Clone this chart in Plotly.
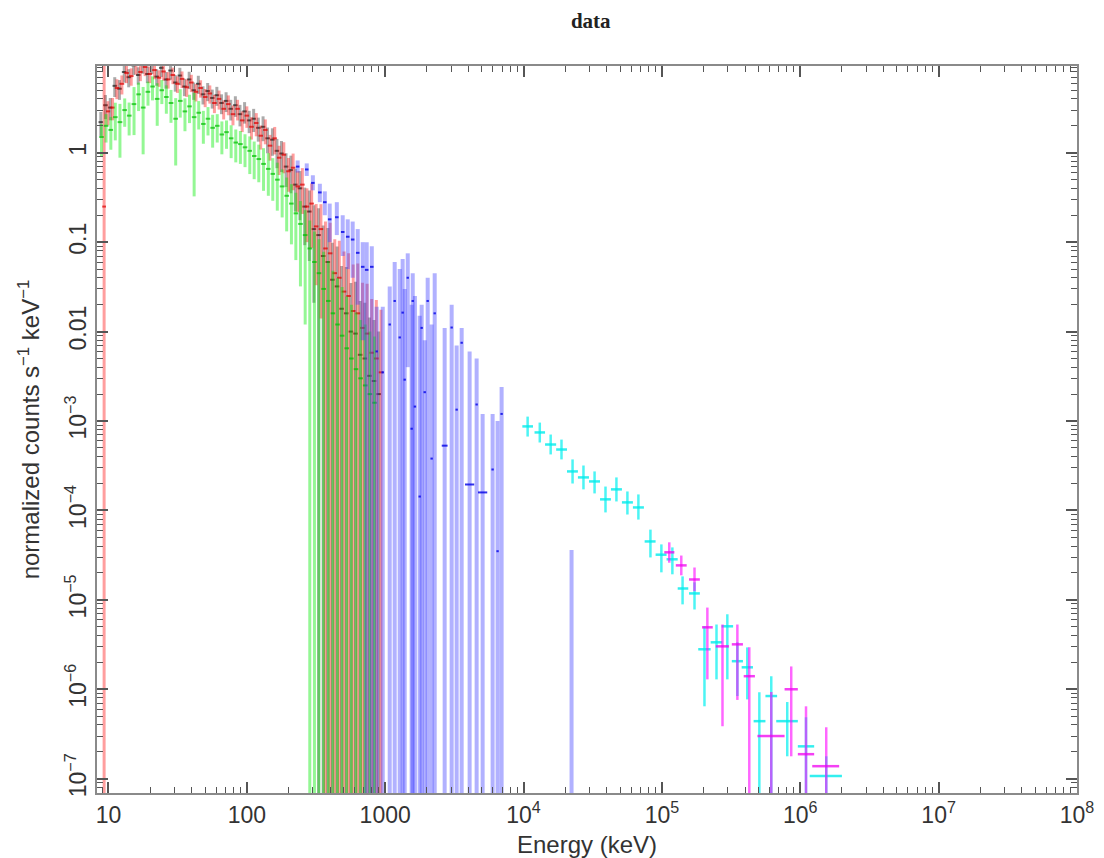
import plotly.graph_objects as go

# ---------------- data ----------------
BOTTOM = 1e-9  # lower error bound below the axis (error reaches zero)

# group 1 (black)
black_e = [8.8, 9.5, 10.3, 11.1, 12.0, 13.0, 14.0, 15.2, 16.4, 17.7,
           19.1, 20.6, 22.3, 24.1, 26.0, 28.1, 30.4, 32.8, 35.4, 38.3,
           41.3, 44.6, 48.2, 52.1, 56.2, 60.7, 65.6, 70.8, 76.5, 82.6,
           89.2, 96.3, 104, 112, 121, 131, 141, 153, 165, 178,
           192, 208, 224, 242, 262, 283, 305, 330, 356, 385,
           415, 449, 484, 523, 565, 610, 659, 712, 769, 830, 897]
black_v = [2.2, 3.4, 3.2, 5.6, 5.2, 8.0, 7.0, 9.5, 7.4, 9.8,
           7.6, 9.6, 7.1, 8.9, 6.6, 8.3, 6.1, 7.3, 5.5, 6.6,
           5.0, 5.9, 4.5, 4.9, 4.1, 4.4, 3.6, 3.8, 3.1, 3.4,
           2.7, 2.9, 2.3, 2.4, 1.9, 1.95, 1.45, 1.4, 1.05, 0.98,
           0.7, 0.64, 0.44, 0.4, 0.25, 0.22, 0.14, 0.12, 0.07, 0.06,
           0.038, 0.032, 0.018, 0.016, 0.01, 0.0095, 0.0055, 0.005, 0.0032, 0.0028, 0.002]
black_rel = [0.3, 0.3, 0.28, 0.25, 0.25, 0.24, 0.23, 0.22, 0.22, 0.22,
             0.21, 0.21, 0.21, 0.21, 0.21, 0.21, 0.21, 0.22, 0.22, 0.22,
             0.22, 0.23, 0.23, 0.23, 0.24, 0.24, 0.25, 0.25, 0.26, 0.26,
             0.27, 0.27, 0.28, 0.29, 0.3, 0.31, 0.32, 0.34, 0.36, 0.38,
             0.41, 0.45, 0.5, 0.56, 0.63, 0.72, 0.85, 1.0, 1.2, 1.4,
             1.6, 1.8, 2.0, 2.3, 2.5, 2.8, 3.0, 3.2, 3.5, 3.8, 4.0]

# group 2 (red)
red_e = [9.3, 9.9, 10.7, 11.5, 12.5, 13.5, 14.6, 15.8, 17.0, 18.4,
         19.9, 21.5, 23.2, 25.0, 27.0, 29.2, 31.5, 34.0, 36.8, 39.7,
         42.9, 46.3, 50.0, 54.0, 58.3, 63.0, 68.0, 73.5, 79.4, 85.7,
         92.6, 100, 108, 117, 126, 136, 147, 159, 171, 185,
         200, 216, 233, 252, 272, 294, 317, 343, 370, 400,
         432, 466, 504, 544, 587, 634, 685, 740, 799, 863, 932]
red_v = [0.25, 2.9, 3.2, 5.3, 5.9, 7.8, 7.2, 9.6, 8.0, 9.1,
         7.6, 8.4, 6.9, 8.1, 6.6, 7.4, 5.9, 6.7, 5.4, 6.1,
         4.8, 5.3, 4.2, 4.6, 3.6, 4.0, 3.1, 3.5, 2.7, 3.1,
         2.3, 2.6, 1.95, 2.15, 1.55, 1.8, 1.2, 1.45, 0.88, 0.95,
         0.62, 0.68, 0.42, 0.44, 0.25, 0.27, 0.15, 0.14, 0.085, 0.075,
         0.045, 0.04, 0.028, 0.025, 0.017, 0.016, 0.011, 0.0095, 0.0058, 0.005, 0.0035]
red_rel = [100.0, 0.3, 0.28, 0.25, 0.24, 0.23, 0.22, 0.22, 0.21, 0.21,
           0.21, 0.21, 0.21, 0.21, 0.21, 0.21, 0.21, 0.21, 0.22, 0.22,
           0.22, 0.22, 0.23, 0.23, 0.23, 0.24, 0.24, 0.25, 0.25, 0.26,
           0.26, 0.27, 0.28, 0.29, 0.3, 0.31, 0.32, 0.34, 0.36, 0.38,
           0.41, 0.44, 0.48, 0.53, 0.6, 0.68, 0.78, 0.9, 1.0, 1.2,
           1.4, 1.6, 1.8, 2.0, 2.3, 2.6, 2.2, 2.6, 3.0, 3.5, 4.0]

# group 3 (green)
green_e = [8.9, 9.6, 10.4, 11.2, 12.1, 13.1, 14.1, 15.3, 16.5, 17.8,
           19.3, 20.8, 22.5, 24.3, 26.2, 28.3, 30.6, 33.0, 35.7, 38.5,
           41.6, 44.9, 48.5, 52.4, 56.6, 61.1, 66.0, 71.3, 77.0, 83.2,
           89.8, 97.0, 105, 113, 122, 132, 143, 154, 166, 180,
           194, 210, 226, 244, 264, 285, 308, 332, 359, 388,
           419, 452, 488, 527, 570, 615, 664, 717, 775, 837]
green_v = [1.5, 2.0, 1.8, 2.5, 2.2, 3.0, 2.6, 3.5, 4.5, 3.2,
           4.8, 5.5, 4.0, 5.0, 4.2, 3.6, 2.4, 3.8, 2.9, 3.3,
           2.5, 2.8, 2.1, 2.4, 1.9, 2.0, 1.6, 1.7, 1.45, 1.3,
           1.25, 1.15, 1.05, 0.92, 0.85, 0.75, 0.66, 0.58, 0.5, 0.42,
           0.33, 0.27, 0.21, 0.16, 0.12, 0.085, 0.06, 0.045, 0.03, 0.022,
           0.016, 0.012, 0.009, 0.0065, 0.005, 0.0038, 0.003, 0.0025, 0.002, 0.0016]
green_rel = [0.4, 0.35, 0.4, 0.45, 0.6, 0.35, 0.4, 0.55, 0.35, 0.7,
             0.3, 0.3, 0.5, 0.3, 0.35, 0.4, 0.7, 0.35, 0.4, 0.35,
             0.87, 0.35, 0.4, 0.35, 0.4, 0.35, 0.4, 0.35, 0.4, 0.4,
             0.4, 0.4, 0.45, 0.45, 0.45, 0.5, 0.5, 0.5, 0.55, 0.55,
             0.6, 0.65, 0.7, 0.8, 0.9, 1.05, 1.2, 1.4, 1.6, 1.8,
             2.0, 2.3, 2.5, 2.8, 3.0, 3.3, 3.5, 3.8, 4.0, 4.5]

# group 4 (blue)
blue_e = [233, 271, 300, 337, 366, 397, 447, 493, 536, 582,
          633, 688, 735, 800, 868, 960, 1078, 1171, 1273, 1337,
          1383, 1455, 1553, 1581, 1640, 1775, 1835, 1930, 2028, 2166,
          2279, 2690, 3022, 3284, 3570, 4075, 4580, 5060, 5975, 6490,
          6940, 22230]
blue_v = [0.70, 0.65, 0.46, 0.36, 0.28, 0.18, 0.19, 0.13, 0.115, 0.107,
          0.076, 0.053, 0.049, 0.053, 0.006, 0.0035, 0.012, 0.022, 0.0086, 0.0163,
          0.0029, 0.040, 0.00082, 0.022, 0.00145, 0.000143, 0.011, 0.0021, 0.022, 0.00038,
          0.016, 0.00053, 0.0111, 0.00134, 0.0075, 0.000195, 0.00153, 0.000159, 0.000287, 3.5e-5,
          0.0012, None]
blue_lo = [0.60, 0.55, 0.38, 0.28, 0.20, 0.10, 0.12, 0.07, 0.05, 0.04,
           0.02, 0.008, BOTTOM, BOTTOM, BOTTOM, BOTTOM, BOTTOM, BOTTOM, BOTTOM, BOTTOM,
           BOTTOM, 0.004, BOTTOM, BOTTOM, BOTTOM, BOTTOM, BOTTOM, BOTTOM, BOTTOM, BOTTOM,
           BOTTOM, BOTTOM, BOTTOM, BOTTOM, BOTTOM, BOTTOM, BOTTOM, BOTTOM, BOTTOM, BOTTOM,
           BOTTOM, BOTTOM]
blue_hi = [0.82, 0.76, 0.56, 0.45, 0.37, 0.27, 0.28, 0.20, 0.18, 0.17,
           0.14, 0.10, 0.10, 0.09, 0.019, 0.019, 0.032, 0.06, 0.05, 0.065,
           0.03, 0.075, 0.02, 0.045, 0.025, 0.015, 0.02, 0.008, 0.04, 0.012,
           0.045, 0.011, 0.02, 0.007, 0.011, 0.006, 0.005, 0.0012, 0.0012, 0.001,
           0.0024, 3.6e-5]
blue_hw = [1.03, 1.03, 1.03, 1.03, 1.03, 1.03, 1.03, 1.03, 1.03, 1.03,
           1.03, 1.03, 1.03, 1.03, 1.02, 1.02, 1.02, 1.02, 1.02, 1.02,
           1.02, 1.02, 1.02, 1.02, 1.02, 1.02, 1.02, 1.02, 1.02, 1.02,
           1.02, 1.05, 1.02, 1.02, 1.02, 1.08, 1.02, 1.08, 1.02, 1.02,
           1.02, 1.02]

# group 5 (cyan)
cyan_e = [1.07e4, 1.31e4, 1.57e4, 1.88e4, 2.26e4, 2.71e4, 3.26e4, 3.91e4, 4.69e4, 5.63e4,
          6.76e4, 8.26e4, 9.91e4, 1.19e5, 1.41e5, 1.72e5, 2.03e5, 2.48e5, 2.97e5, 3.51e5,
          4.14e5, 5.06e5, 6.17e5, 8.05e5, 1.10e6, 1.54e6]
cyan_v = [8.7e-4, 7.45e-4, 5.46e-4, 4.8e-4, 2.73e-4, 2.34e-4, 2.11e-4, 1.33e-4, 1.72e-4, 1.23e-4,
          1.08e-4, 4.5e-5, 3.2e-5, 2.84e-5, 1.34e-5, 1.18e-5, 2.8e-6, 3.35e-6, 5.06e-6, 2.06e-6,
          1.76e-6, 4.4e-7, 8.4e-7, 4.4e-7, 2.3e-7, 1.07e-7]
cyan_lo = [6.7e-4, 5.75e-4, 4.23e-4, 3.72e-4, 2.0e-4, 1.72e-4, 1.55e-4, 9.5e-5, 1.26e-4, 9.0e-5,
           7.9e-5, 2.98e-5, 2.03e-5, 1.93e-5, 8.9e-6, 7.8e-6, 6.45e-7, 1.29e-6, 1.29e-6, 8.4e-7,
           7.7e-7, BOTTOM, BOTTOM, 1.78e-7, BOTTOM, BOTTOM]
cyan_hi = [1.12e-3, 9.6e-4, 7.06e-4, 6.2e-4, 3.72e-4, 3.18e-4, 2.73e-4, 1.85e-4, 2.34e-4, 1.63e-4,
           1.51e-4, 6.1e-5, 4.17e-5, 3.86e-5, 1.83e-5, 1.57e-5, 5.06e-6, 5.3e-6, 6.9e-6, 3.35e-6,
           2.94e-6, 9.25e-7, 1.4e-6, 7.2e-7, 4.86e-7, 1.78e-7]
cyan_elo = [0.98e4, 1.20e4, 1.43e4, 1.72e4, 2.06e4, 2.47e4, 2.97e4, 3.57e4, 4.28e4, 5.14e4,
            6.17e4, 7.5e4, 9.0e4, 1.08e5, 1.30e5, 1.57e5, 1.83e5, 2.25e5, 2.70e5, 3.2e5,
            3.77e5, 4.6e5, 5.6e5, 6.7e5, 0.96e6, 1.17e6]
cyan_ehi = [1.17e4, 1.43e4, 1.72e4, 2.06e4, 2.47e4, 2.97e4, 3.57e4, 4.28e4, 5.14e4, 6.17e4,
            7.41e4, 9.0e4, 1.08e5, 1.30e5, 1.55e5, 1.88e5, 2.25e5, 2.73e5, 3.27e5, 3.85e5,
            4.55e5, 5.6e5, 6.8e5, 9.6e5, 1.26e6, 2.0e6]

# group 6 (magenta)
mag_e = [1.13e5, 1.38e5, 1.72e5, 2.13e5, 2.74e5, 3.51e5, 4.28e5, 6.17e5, 8.6e5, 1.10e6, 1.54e6]
mag_v = [3.4e-5, 2.43e-5, 1.69e-5, 4.93e-6, 3.02e-6, 3.18e-6, 1.4e-6, 3.0e-7, 1.0e-6, 1.88e-7, 1.38e-7]
mag_lo = [2.6e-5, 1.88e-5, 1.25e-5, 1.29e-6, 3.86e-7, 7.6e-7, BOTTOM, BOTTOM, 1.78e-7, BOTTOM, BOTTOM]
mag_hi = [4.4e-5, 3.13e-5, 2.3e-5, 8.2e-6, 5.3e-6, 5.3e-6, 2.95e-6, 9.3e-7, 1.8e-6, 6.45e-7, 3.76e-7]
mag_elo = [1.04e5, 1.26e5, 1.57e5, 1.95e5, 2.45e5, 3.2e5, 3.9e5, 4.9e5, 7.7e5, 0.96e6, 1.22e6]
mag_ehi = [1.23e5, 1.51e5, 1.88e5, 2.33e5, 3.05e5, 3.85e5, 4.7e5, 7.7e5, 9.6e5, 1.26e6, 1.91e6]

x_tickvals = [10, 100, 1000, 1e4, 1e5, 1e6, 1e7, 1e8]
x_ticktext = ["10", "100", "1000", "10<sup>4</sup>", "10<sup>5</sup>", "10<sup>6</sup>",
              "10<sup>7</sup>", "10<sup>8</sup>"]
y_tickvals = [1e-7, 1e-6, 1e-5, 1e-4, 1e-3, 0.01, 0.1, 1]
y_ticktext = ["10<sup>\u22127</sup>", "10<sup>\u22126</sup>", "10<sup>\u22125</sup>",
              "10<sup>\u22124</sup>", "10<sup>\u22123</sup>", "0.01", "0.1", "1"]


# ---------------- helpers ----------------
def bin_edges(E):
    n = len(E)
    lo, hi = [], []
    for i in range(n):
        if i > 0:
            left = (E[i - 1] * E[i]) ** 0.5
        else:
            left = E[i] ** 2 / (E[i] * E[i + 1]) ** 0.5
        if i < n - 1:
            right = (E[i] * E[i + 1]) ** 0.5
        else:
            right = E[i] ** 2 / (E[i - 1] * E[i]) ** 0.5
        lo.append(left)
        hi.append(right)
    return lo, hi


def rel_bounds(v, rel):
    lo, hi = [], []
    for val, r in zip(v, rel):
        low = val * (1 - r)
        lo.append(low if low > 0 else BOTTOM)
        hi.append(val * (1 + r))
    return lo, hi


def vseg(E, lo, hi):
    xs, ys = [], []
    for e, a, b in zip(E, lo, hi):
        xs += [e, e, None]
        ys += [a, b, None]
    return xs, ys


def hseg(elo, ehi, v):
    xs, ys = [], []
    for a, b, val in zip(elo, ehi, v):
        if val is None:
            continue
        xs += [a, b, None]
        ys += [val, val, None]
    return xs, ys


fig = go.Figure()


def add_group(E, v, lo, hi, elo, ehi, vcol, hcol, vw, hw):
    xs, ys = vseg(E, lo, hi)
    fig.add_trace(go.Scatter(x=xs, y=ys, mode="lines", line=dict(color=vcol, width=vw),
                             hoverinfo="skip", showlegend=False))
    xs, ys = hseg(elo, ehi, v)
    fig.add_trace(go.Scatter(x=xs, y=ys, mode="lines", line=dict(color=hcol, width=hw),
                             hoverinfo="skip", showlegend=False))


# NaI-like groups
for E, v, rel, vcol, hcol in [
    (black_e, black_v, black_rel, "rgba(0,0,0,0.33)", "rgba(0,0,0,0.6)"),
    (red_e, red_v, red_rel, "rgba(255,0,0,0.38)", "rgba(220,0,0,0.7)"),
    (green_e, green_v, green_rel, "rgba(0,235,0,0.42)", "rgba(0,190,0,0.7)"),
]:
    lo, hi = rel_bounds(v, rel)
    elo, ehi = bin_edges(E)
    add_group(E, v, lo, hi, elo, ehi, vcol, hcol, 3, 2)

# blue group
b_elo = [e / h for e, h in zip(blue_e, blue_hw)]
b_ehi = [e * h for e, h in zip(blue_e, blue_hw)]
add_group(blue_e, blue_v, blue_lo, blue_hi, b_elo, b_ehi,
          "rgba(60,60,255,0.4)", "rgba(0,0,230,0.8)", 4, 2)

# cyan group
add_group(cyan_e, cyan_v, cyan_lo, cyan_hi, cyan_elo, cyan_ehi,
          "rgba(0,240,240,0.7)", "rgba(0,235,235,0.8)", 2.5, 2.5)

# magenta group
add_group(mag_e, mag_v, mag_lo, mag_hi, mag_elo, mag_ehi,
          "rgba(255,0,255,0.6)", "rgba(240,0,240,0.75)", 2.5, 2.5)

x_minor = [m * 10 ** k for k in range(0, 8) for m in range(2, 10)]
y_minor = [m * 10.0 ** k for k in range(-8, 1) for m in range(2, 10)]

axis_common = dict(
    showline=True, linecolor="#8a8a8a", linewidth=2, mirror="allticks",
    ticks="inside", ticklen=11, tickwidth=1.5, tickcolor="#555555",
    showgrid=False, zeroline=False, automargin=False,
    tickfont=dict(family="Liberation Sans, Arial, sans-serif", size=23, color="#333333"),
)

# the page adds an 8 px body margin, so the figure is 8 px smaller and margins shifted
fig.update_layout(
    width=1096, height=850,
    paper_bgcolor="white", plot_bgcolor="white",
    margin=dict(l=89, r=27, t=58, b=65),
    title=dict(text="<b>data</b>", x=0.5317, xanchor="center", y=0.985, yanchor="middle",
               font=dict(family="Liberation Serif, Times New Roman, serif", size=21, color="#222222")),
    xaxis=dict(
        type="log", range=[0.917, 8.0],
        tickmode="array", tickvals=x_tickvals, ticktext=x_ticktext,
        minor=dict(tickmode="array", tickvals=x_minor, ticks="inside", ticklen=6,
                   tickwidth=1.2, tickcolor="#555555", showgrid=False),
        title=dict(text="Energy (keV)",
                   font=dict(family="Liberation Sans, Arial, sans-serif", size=24, color="#333333")),
        **axis_common,
    ),
    yaxis=dict(
        type="log", range=[-7.16, 0.97],
        tickmode="array", tickvals=y_tickvals, ticktext=y_ticktext, tickangle=-90,
        minor=dict(tickmode="array", tickvals=y_minor, ticks="inside", ticklen=6,
                   tickwidth=1.2, tickcolor="#555555", showgrid=False),
        title=dict(text="normalized counts s<sup>\u22121</sup> keV<sup>\u22121</sup>",
                   font=dict(family="Liberation Sans, Arial, sans-serif", size=24, color="#333333")),
        **axis_common,
    ),
)

fig.write_html("out.html")
